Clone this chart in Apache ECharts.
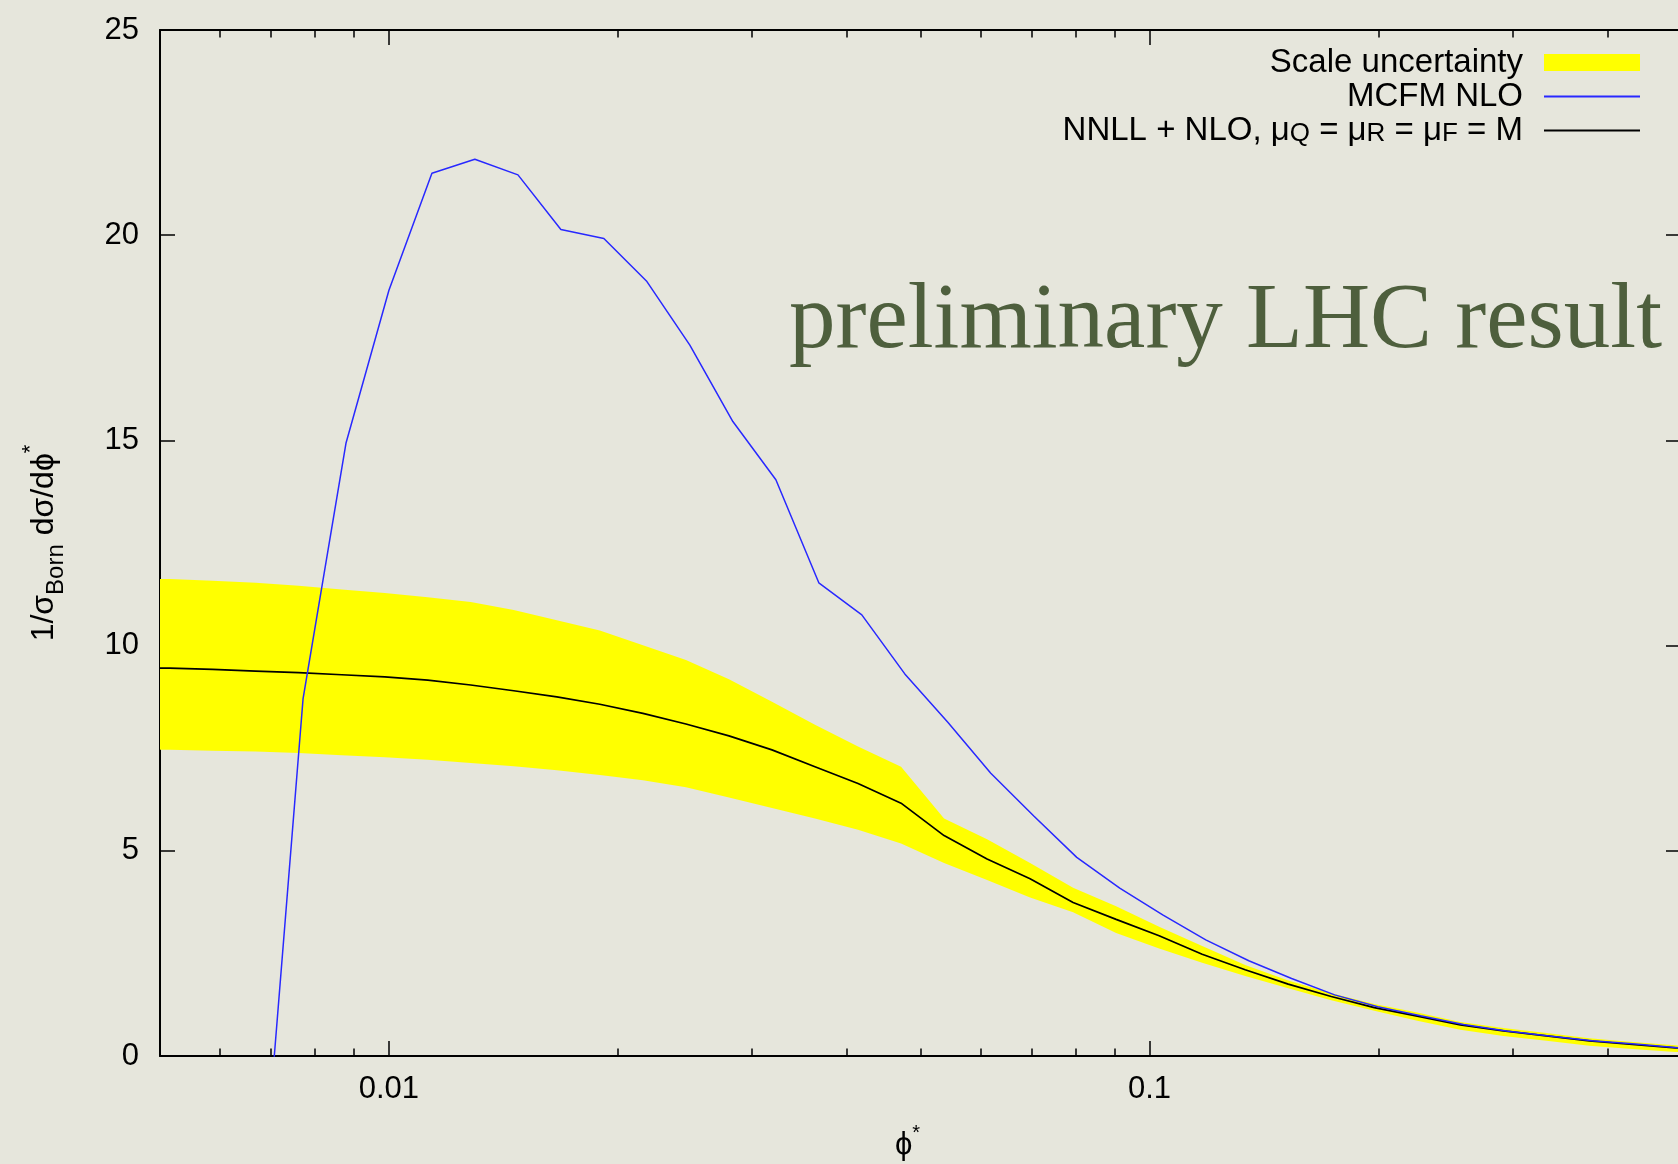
<!DOCTYPE html>
<html>
<head>
<meta charset="utf-8">
<script src="https://cdn.jsdelivr.net/npm/echarts@6/dist/echarts.min.js"></script>
<style>
  html, body { margin: 0; padding: 0; background: #e6e6dc; }
  #chart { width: 1678px; height: 1164px; }
</style>
</head>
<body>
<div id="chart"></div>
<script>
// phi* points of the resummed NNLL + NLO prediction and its scale band
const phiBand = [0.00452, 0.005148, 0.005863, 0.006679, 0.007607, 0.008668, 0.009874, 0.011246,
  0.01281, 0.014592, 0.016625, 0.018937, 0.021577, 0.024578, 0.027997, 0.031891, 0.036325,
  0.041381, 0.04714, 0.053697, 0.061163, 0.069671, 0.079362, 0.090404, 0.10298, 0.11731,
  0.13363, 0.15222, 0.17339, 0.19752, 0.225, 0.25631, 0.29196, 0.33258, 0.37883, 0.43153,
  0.49157, 0.5599];
const bandUpper = [11.64, 11.62, 11.58, 11.53, 11.46, 11.37, 11.28, 11.18, 11.06, 10.87, 10.62,
  10.37, 10.01, 9.65, 9.18, 8.63, 8.07, 7.54, 7.05, 5.79, 5.28, 4.70, 4.10, 3.65, 3.15, 2.68,
  2.22, 1.84, 1.53, 1.27, 1.06, 0.83, 0.68, 0.56, 0.43, 0.34, 0.26, 0.20];
const nnllCentral = [9.46, 9.45, 9.42, 9.38, 9.34, 9.29, 9.24, 9.16, 9.04, 8.90, 8.75, 8.57,
  8.35, 8.09, 7.80, 7.46, 7.05, 6.64, 6.16, 5.37, 4.80, 4.32, 3.74, 3.33, 2.93, 2.48, 2.10,
  1.75, 1.45, 1.18, 0.97, 0.76, 0.61, 0.49, 0.37, 0.28, 0.20, 0.15];
const bandLower = [7.47, 7.46, 7.44, 7.42, 7.38, 7.33, 7.28, 7.22, 7.14, 7.06, 6.96, 6.85,
  6.72, 6.55, 6.30, 6.04, 5.79, 5.51, 5.18, 4.70, 4.29, 3.86, 3.50, 3.00, 2.62, 2.27, 1.95,
  1.65, 1.36, 1.10, 0.86, 0.64, 0.49, 0.37, 0.25, 0.17, 0.10, 0.06];

// MCFM fixed-order NLO points
const phiNlo = [0.00677, 0.00771, 0.00878, 0.0100, 0.01139, 0.01297, 0.01478, 0.01683, 0.01917,
  0.02184, 0.02487, 0.02833, 0.03227, 0.03675, 0.04186, 0.04768, 0.05431, 0.06186, 0.07046,
  0.08025, 0.0914, 0.1041, 0.1186, 0.1351, 0.1538, 0.1752, 0.1996, 0.2273, 0.2589, 0.2949,
  0.3359, 0.3826, 0.4358, 0.4964, 0.5654];
const mcfmNlo = [-4.3, 8.7, 14.93, 18.66, 21.51, 21.85, 21.47, 20.14, 19.92, 18.87, 17.32,
  15.46, 14.04, 11.53, 10.75, 9.31, 8.13, 6.89, 5.85, 4.84, 4.09, 3.44, 2.83, 2.32, 1.89,
  1.49, 1.20, 0.98, 0.77, 0.61, 0.49, 0.37, 0.29, 0.20, 0.15];

// axis ticks
const xMajorTicks = [0.01, 0.1];
const xTickLabels = ['0.01', '0.1'];
const xMinorTicks = [0.006, 0.007, 0.008, 0.009, 0.02, 0.03, 0.04, 0.05, 0.06, 0.07, 0.08,
  0.09, 0.2, 0.3, 0.4];
const yMin = 0, yMax = 25, yStep = 5;

const FONT = '"Liberation Sans", Arial, Helvetica, sans-serif';
const NAME_BAND = 'Scale uncertainty';
const NAME_NLO = 'MCFM NLO';
const NAME_NNLL = 'NNLL + NLO, μQ = μR = μF = M';
const legendText = {};
legendText[NAME_BAND] = '{t|Scale uncertainty}';
legendText[NAME_NLO] = '{t|MCFM NLO}';
legendText[NAME_NNLL] = '{t|NNLL + NLO, μ}{s|Q}{t| = μ}{s|R}{t| = μ}{s|F}{t| = M}';

const pairs = (xs, ys) => xs.map((x, i) => [x, ys[i]]);
const bandRows = phiBand.map((x, i) => [x, bandLower[i], bandUpper[i]]);

function logAxis(position, ticks, len, showLine, extra) {
  return Object.assign({
    type: 'log', logBase: 10, min: 0.005, max: 0.5, position: position,
    axisLine: { show: showLine, onZero: false, lineStyle: { color: '#000', width: 2 } },
    axisTick: { show: true, inside: true, length: len, customValues: ticks,
      lineStyle: { color: '#000', width: 1.5 } },
    axisLabel: { show: false },
    splitLine: { show: false },
    minorTick: { show: false }
  }, extra || {});
}

// scale-uncertainty band: one filled polygon between the lower and upper edges
function renderBand(params, api) {
  if (params.dataIndex !== 0) return null;
  const pts = [];
  for (let i = 0; i < bandRows.length; i++) pts.push(api.coord([bandRows[i][0], bandRows[i][2]]));
  for (let i = bandRows.length - 1; i >= 0; i--) pts.push(api.coord([bandRows[i][0], bandRows[i][1]]));
  const cs = params.coordSys;
  return {
    type: 'group',
    clipPath: { type: 'rect', shape: { x: cs.x, y: cs.y, width: cs.width, height: cs.height } },
    children: [{ type: 'polygon', shape: { points: pts }, style: { fill: '#ffff00', stroke: null } }]
  };
}

const chart = echarts.init(document.getElementById('chart'), null, { renderer: 'canvas' });
chart.setOption({
  backgroundColor: '#e6e6dc',
  animation: false,
  grid: { left: 160, right: -3, top: 30, bottom: 108, containLabel: false, outerBoundsMode: 'none' },
  xAxis: [
    logAxis('bottom', xMajorTicks, 15, true, {
      axisLabel: {
        show: true, customValues: xMajorTicks, margin: 18,
        fontFamily: FONT, fontSize: 31, color: '#000',
        formatter: function (v) {
          let best = 0;
          xMajorTicks.forEach((t, i) => { if (Math.abs(Math.log10(t) - Math.log10(v)) < Math.abs(Math.log10(xMajorTicks[best]) - Math.log10(v))) best = i; });
          return xTickLabels[best];
        }
      },
      name: '{t|ϕ}{p|*}',
      nameLocation: 'middle',
      nameGap: 67,
      nameTextStyle: {
        fontFamily: FONT, color: '#000', padding: [0, 26, 0, 0],
        rich: {
          t: { fontFamily: FONT, fontSize: 31, lineHeight: 44, color: '#000' },
          p: { fontFamily: FONT, fontSize: 20, lineHeight: 20, verticalAlign: 'top', color: '#000' }
        }
      }
    }),
    logAxis('top', xMajorTicks, 15, true),
    logAxis('bottom', xMinorTicks, 7.5, false),
    logAxis('top', xMinorTicks, 7.5, false)
  ],
  yAxis: [
    {
      type: 'value', min: yMin, max: yMax, interval: yStep, position: 'left',
      axisLine: { show: true, onZero: false, lineStyle: { color: '#000', width: 2 } },
      axisTick: { show: true, inside: true, length: 15, lineStyle: { color: '#000', width: 1.5 } },
      axisLabel: { margin: 21, fontFamily: FONT, fontSize: 31, color: '#000' },
      splitLine: { show: false },
      name: '{t|1/σ}{s|Born}{t| dσ/dϕ}{p|*}',
      nameLocation: 'middle',
      nameRotate: 90,
      nameGap: 92,
      nameTextStyle: {
        fontFamily: FONT, color: '#000',
        rich: {
          t: { fontFamily: FONT, fontSize: 32, lineHeight: 48, color: '#000' },
          s: { fontFamily: FONT, fontSize: 24, lineHeight: 24, verticalAlign: 'bottom', color: '#000' },
          p: { fontFamily: FONT, fontSize: 22, lineHeight: 22, verticalAlign: 'top', color: '#000' }
        }
      }
    },
    {
      type: 'value', min: yMin, max: yMax, interval: yStep, position: 'right',
      axisLine: { show: true, onZero: false, lineStyle: { color: '#000', width: 2 } },
      axisTick: { show: true, inside: true, length: 15, lineStyle: { color: '#000', width: 1.5 } },
      axisLabel: { show: false },
      splitLine: { show: false }
    }
  ],
  legend: {
    orient: 'vertical', align: 'right', right: 37, top: 46, padding: 0,
    itemWidth: 96, itemHeight: 17, itemGap: 1, selectedMode: false,
    data: [
      { name: NAME_BAND, icon: 'rect', itemStyle: { color: '#ffff00' } },
      { name: NAME_NLO, itemStyle: { opacity: 0 } },
      { name: NAME_NNLL, itemStyle: { opacity: 0 } }
    ],
    formatter: function (name) { return legendText[name]; },
    textStyle: {
      fontFamily: FONT, fontSize: 33, color: '#000', padding: [0, 16, 0, 0],
      rich: {
        t: { fontFamily: FONT, fontSize: 33, lineHeight: 32, color: '#000' },
        s: { fontFamily: FONT, fontSize: 26, lineHeight: 18, verticalAlign: 'bottom', color: '#000' }
      }
    }
  },
  graphic: [{
    type: 'text', x: 789, y: 323, z: 10,
    style: {
      text: 'preliminary LHC result',
      font: '93px "Liberation Serif", "DejaVu Serif", serif',
      fill: '#4e5f3d', verticalAlign: 'middle', align: 'left'
    }
  }],
  series: [
    {
      name: NAME_BAND, type: 'custom', data: bandRows, renderItem: renderBand,
      encode: { x: 0, y: [1, 2] }, silent: true, color: '#ffff00',
      itemStyle: { color: '#ffff00' }, z: 1
    },
    {
      name: NAME_NNLL, type: 'line', data: pairs(phiBand, nnllCentral),
      symbol: 'none', color: '#000', lineStyle: { color: '#000', width: 1.7 }, z: 3
    },
    {
      name: NAME_NLO, type: 'line', data: pairs(phiNlo, mcfmNlo),
      symbol: 'none', color: '#2828ff', lineStyle: { color: '#2828ff', width: 1.5 }, z: 4
    }
  ]
});
</script>
</body>
</html>
